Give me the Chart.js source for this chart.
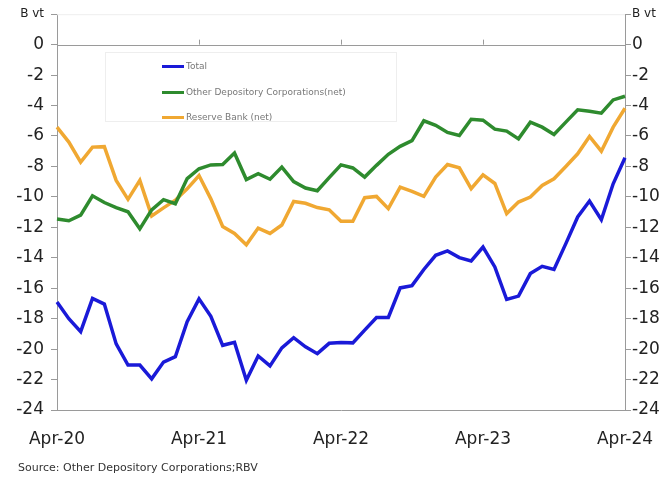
<!DOCTYPE html>
<html>
<head>
<meta charset="utf-8">
<script src="https://cdn.jsdelivr.net/npm/chart.js@4.4.1/dist/chart.umd.min.js"></script>
<style>
  html, body { margin: 0; padding: 0; background: #fff; }
  #wrap { position: relative; width: 670px; height: 479px; font-family: "DejaVu Sans", sans-serif; }
  #myChart { position: absolute; left: 0; top: 0; }
  #leyenda {
    position: absolute; left: 105px; top: 52px; width: 292px; height: 70px;
    border: 1px solid #eeeeee; box-sizing: border-box;
  }
  .item { position: absolute; left: 56px; font-size: 9px; color: #777; line-height: 10px; white-space: nowrap; filter: blur(0.3px); }
  .item span { display: inline-block; width: 22px; height: 3px; margin-right: 2px; vertical-align: middle; }
  #fuente { position: absolute; left: 18px; top: 461px; font-size: 11px; color: #333; }
</style>
</head>
<body>
<div id="wrap">
  <canvas id="myChart" width="670" height="479"></canvas>
  <div id="leyenda">
    <div class="item" style="top:8px"><span style="background:#1a1ad8"></span>Total</div>
    <div class="item" style="top:34px"><span style="background:#2e8b2e"></span>Other Depository Corporations(net)</div>
    <div class="item" style="top:59px"><span style="background:#f0a832"></span>Reserve Bank (net)</div>
  </div>
  <div id="fuente">Source: Other Depository Corporations;RBV</div>
</div>
<script>
// meses desde abril 2020 hasta abril 2024
const meses = [
  "Apr-20", "May-20", "Jun-20", "Jul-20", "Aug-20", "Sep-20", "Oct-20", "Nov-20", "Dec-20", "Jan-21", "Feb-21", "Mar-21",
  "Apr-21", "May-21", "Jun-21", "Jul-21", "Aug-21", "Sep-21", "Oct-21", "Nov-21", "Dec-21", "Jan-22", "Feb-22", "Mar-22",
  "Apr-22", "May-22", "Jun-22", "Jul-22", "Aug-22", "Sep-22", "Oct-22", "Nov-22", "Dec-22", "Jan-23", "Feb-23", "Mar-23",
  "Apr-23", "May-23", "Jun-23", "Jul-23", "Aug-23", "Sep-23", "Oct-23", "Nov-23", "Dec-23", "Jan-24", "Feb-24", "Mar-24",
  "Apr-24"
];

const total = [
  -16.9, -18.0, -18.85, -16.67, -17.04, -19.66, -21.05, -21.05, -21.95, -20.85, -20.5, -18.2,
  -16.7, -17.85, -19.75, -19.55, -22.05, -20.45, -21.1, -19.92, -19.25, -19.85, -20.3, -19.62,
  -19.57, -19.59, -18.75, -17.92, -17.92, -15.98, -15.83, -14.77, -13.84, -13.55, -13.99, -14.21,
  -13.3, -14.6, -16.74, -16.52, -15.04, -14.56, -14.77, -13.07, -11.32, -10.27, -11.5, -9.14,
  -7.43
];

const otrasCorporaciones = [
  -11.46, -11.57, -11.2, -9.93, -10.37, -10.7, -10.98, -12.1, -10.85, -10.18, -10.45, -8.8,
  -8.15, -7.9, -7.87, -7.12, -8.86, -8.48, -8.84, -8.04, -9.0, -9.42, -9.6, -8.74,
  -7.9, -8.1, -8.7, -7.93, -7.2, -6.68, -6.3, -5.0, -5.3, -5.77, -5.97, -4.9,
  -4.96, -5.55, -5.68, -6.19, -5.09, -5.42, -5.9, -5.09, -4.28, -4.37, -4.5, -3.63,
  -3.39
];

const bancoReserva = [
  -5.42, -6.4, -7.72, -6.73, -6.7, -8.92, -10.16, -8.92, -11.25, -10.72, -10.22, -9.47,
  -8.6, -10.13, -11.95, -12.4, -13.15, -12.05, -12.4, -11.85, -10.3, -10.42, -10.7, -10.85,
  -11.6, -11.6, -10.05, -9.97, -10.77, -9.36, -9.64, -9.97, -8.7, -7.87, -8.09, -9.46,
  -8.55, -9.12, -11.1, -10.34, -10.01, -9.25, -8.81, -8.0, -7.17, -6.03, -7.0, -5.42,
  -4.18
];

const ctx = document.querySelector("#myChart");
const gris = "#9a9a9a";

// linea del cero con las marcas de cada año, y borde superior tenue
const lineaCero = {
  id: "lineaCero",
  beforeDatasetsDraw(chart) {
    const { ctx, chartArea, scales } = chart;
    const y0 = scales.y.getPixelForValue(0);
    ctx.save();
    ctx.strokeStyle = "#eeeeee";
    ctx.lineWidth = 1;
    ctx.beginPath();
    ctx.moveTo(chartArea.left, chartArea.top + 0.5);
    ctx.lineTo(chartArea.right, chartArea.top + 0.5);
    ctx.stroke();
    ctx.strokeStyle = gris;
    ctx.beginPath();
    ctx.moveTo(chartArea.left, Math.round(y0) + 0.5);
    ctx.lineTo(chartArea.right, Math.round(y0) + 0.5);
    meses.forEach((m, i) => {
      if (m.startsWith("Apr") && i > 0 && i < meses.length - 1) {
        const x = Math.round(scales.x.getPixelForValue(i)) + 0.5;
        ctx.moveTo(x, y0 - 5);
        ctx.lineTo(x, y0);
      }
    });
    ctx.stroke();
    ctx.restore();
  },
};

const fuenteTicks = (c) =>
  c.tick && c.tick.value === 2
    ? { family: "DejaVu Sans", size: 12 }
    : { family: "DejaVu Sans", size: 17 };

const etiquetaY = (v) => (v === 2 ? "B vt" : v);

const grafica = new Chart(ctx, {
  type: "line",
  data: {
    labels: meses,
    datasets: [
      {
        label: "Total",
        data: total,
        borderColor: "#1a1ad8",
        borderWidth: 3.5,
      },
      {
        label: "Other Depository Corporations(net)",
        data: otrasCorporaciones,
        borderColor: "#2e8b2e",
        borderWidth: 3.5,
      },
      {
        label: "Reserve Bank (net)",
        data: bancoReserva,
        borderColor: "#f0a832",
        borderWidth: 3.5,
      },
    ],
  },
  options: {
    responsive: false,
    animation: false,
    layout: { padding: { top: 13, right: 0, left: 0, bottom: 0 } },
    elements: {
      point: { radius: 0 },
      line: { tension: 0 },
    },
    plugins: {
      legend: { display: false },
      tooltip: { enabled: false },
    },
    scales: {
      x: {
        offset: false,
        grid: { display: false },
        border: { display: true, color: gris },
        ticks: {
          autoSkip: false,
          maxRotation: 0,
          padding: 11,
          color: "#222",
          font: { family: "DejaVu Sans", size: 17 },
          callback: (v, i) => (meses[i].startsWith("Apr") ? meses[i] : ""),
        },
        afterFit: (scale) => { scale.height = 69; },
      },
      y: {
        position: "left",
        min: -24,
        max: 2,
        grid: { drawOnChartArea: false, drawTicks: true, tickLength: 6, color: gris },
        border: { display: true, color: gris },
        ticks: { stepSize: 2, padding: 7, color: "#222", font: fuenteTicks, callback: etiquetaY },
        afterFit: (scale) => { scale.width = 57; },
      },
      y2: {
        position: "right",
        min: -24,
        max: 2,
        grid: { drawOnChartArea: false, drawTicks: true, tickLength: 6, color: gris },
        border: { display: true, color: gris },
        ticks: { stepSize: 2, padding: 1, color: "#222", font: fuenteTicks, callback: etiquetaY },
        afterFit: (scale) => { scale.width = 45; },
      },
    },
  },
  plugins: [lineaCero],
});
</script>
</body>
</html>
